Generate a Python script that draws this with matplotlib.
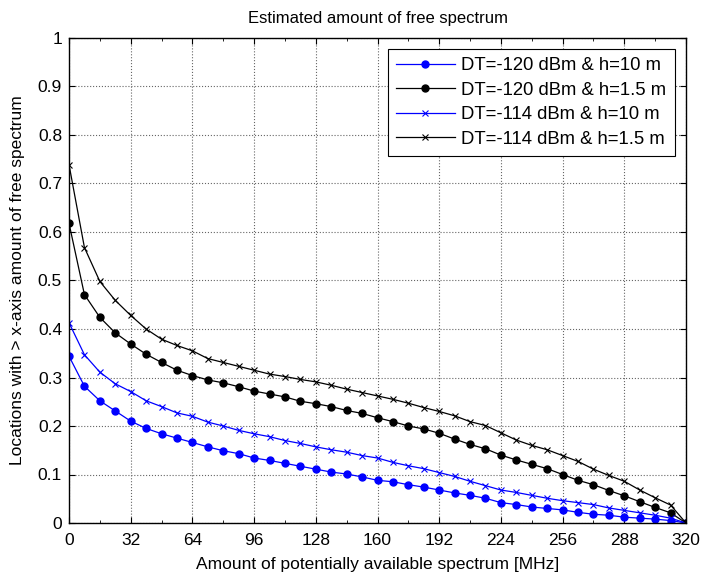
import matplotlib
matplotlib.use("Agg")
import matplotlib.pyplot as plt
from matplotlib.ticker import MultipleLocator

plt.rcParams['font.family'] = ['Liberation Sans', 'DejaVu Sans']

# spectrum axis [MHz], one point every 8 MHz
spectrum = [0, 8, 16, 24, 32, 40, 48, 56, 64, 72, 80, 88, 96, 104, 112, 120,
            128, 136, 144, 152, 160, 168, 176, 184, 192, 200, 208, 216, 224,
            232, 240, 248, 256, 264, 272, 280, 288, 296, 304, 312, 320]

# DT=-120 dBm & h=10 m
dt120_h10 = [0.344, 0.282, 0.252, 0.231, 0.210, 0.195, 0.184, 0.175, 0.166,
             0.157, 0.149, 0.143, 0.134, 0.129, 0.123, 0.117, 0.111, 0.105,
             0.101, 0.095, 0.088, 0.085, 0.079, 0.074, 0.068, 0.062, 0.057,
             0.051, 0.042, 0.038, 0.033, 0.030, 0.027, 0.022, 0.018, 0.016,
             0.012, 0.010, 0.008, 0.005, 0.0]

# DT=-120 dBm & h=1.5 m
dt120_h15 = [0.618, 0.471, 0.424, 0.392, 0.369, 0.348, 0.331, 0.315, 0.304,
             0.295, 0.289, 0.281, 0.272, 0.266, 0.260, 0.251, 0.246, 0.240,
             0.232, 0.226, 0.217, 0.209, 0.200, 0.194, 0.185, 0.173, 0.162,
             0.153, 0.140, 0.130, 0.121, 0.112, 0.100, 0.088, 0.079, 0.067,
             0.056, 0.044, 0.032, 0.021, 0.0]

# DT=-114 dBm & h=10 m
dt114_h10 = [0.413, 0.347, 0.311, 0.287, 0.271, 0.252, 0.240, 0.227, 0.220,
             0.208, 0.200, 0.191, 0.184, 0.178, 0.170, 0.164, 0.157, 0.151,
             0.146, 0.139, 0.134, 0.125, 0.118, 0.112, 0.104, 0.096, 0.086,
             0.077, 0.068, 0.063, 0.057, 0.051, 0.046, 0.042, 0.038, 0.031,
             0.026, 0.021, 0.016, 0.010, 0.0]

# DT=-114 dBm & h=1.5 m
dt114_h15 = [0.739, 0.568, 0.498, 0.459, 0.428, 0.400, 0.379, 0.366, 0.355,
             0.339, 0.331, 0.323, 0.315, 0.307, 0.302, 0.296, 0.291, 0.284,
             0.276, 0.269, 0.262, 0.255, 0.247, 0.238, 0.230, 0.221, 0.209,
             0.201, 0.186, 0.171, 0.160, 0.151, 0.139, 0.127, 0.111, 0.098,
             0.086, 0.068, 0.052, 0.037, 0.0]

labels = ['DT=-120 dBm & h=10 m', 'DT=-120 dBm & h=1.5 m',
          'DT=-114 dBm & h=10 m', 'DT=-114 dBm & h=1.5 m']

fig = plt.figure(figsize=(7.01, 5.74), dpi=100)
ax = fig.add_axes([69 / 701, 51 / 574, 617 / 701, 485 / 574])

ax.plot(spectrum, dt120_h10, color='blue', lw=0.9, marker='o', ms=5, label=labels[0])
ax.plot(spectrum, dt120_h15, color='black', lw=0.9, marker='o', ms=5, label=labels[1])
ax.plot(spectrum, dt114_h10, color='blue', lw=0.9, marker='x', ms=4, mew=0.8, label=labels[2])
ax.plot(spectrum, dt114_h15, color='black', lw=0.9, marker='x', ms=4, mew=0.8, label=labels[3])

ax.set_xlim(0, 320)
ax.set_ylim(0, 1)
ax.xaxis.set_major_locator(MultipleLocator(32))
ax.xaxis.set_minor_locator(MultipleLocator(16))
ax.set_yticks([0, 0.1, 0.2, 0.3, 0.4, 0.5, 0.6, 0.7, 0.8, 0.9, 1])
ax.set_yticklabels(['0', '0.1', '0.2', '0.3', '0.4', '0.5', '0.6', '0.7', '0.8', '0.9', '1'])
ax.tick_params(which='both', direction='in', top=True, right=True, labelsize=12.5)
ax.tick_params(axis='x', pad=7)
ax.tick_params(axis='y', pad=5)
ax.tick_params(which='major', length=4)
ax.tick_params(which='minor', length=2)
ax.grid(True, which='major', color='#666666', linestyle=':', linewidth=0.8)
for s in ax.spines.values():
    s.set_linewidth(1.0)

ax.set_title('Estimated amount of free spectrum', fontsize=12, pad=11)
ax.set_xlabel('Amount of potentially available spectrum [MHz]', fontsize=12.5, labelpad=7)
ax.set_ylabel('Locations with > x-axis amount of free spectrum', fontsize=12.5, labelpad=9)

leg = ax.legend(loc='upper right', fontsize=13.3, fancybox=False, framealpha=1,
                edgecolor='black', borderaxespad=0.6, handlelength=3.2,
                handletextpad=0.35, labelspacing=0.4, borderpad=0.45)
leg.get_frame().set_linewidth(0.8)

fig.savefig('out.png', dpi=100)
